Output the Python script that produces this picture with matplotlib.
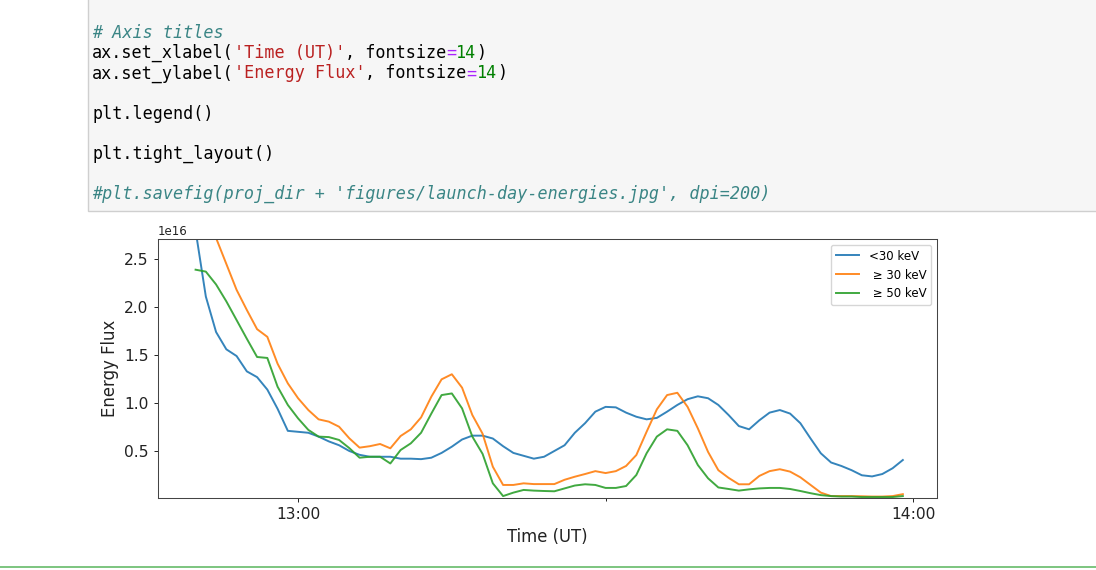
import numpy as np
import pandas as pd
import matplotlib
matplotlib.use("Agg")
import matplotlib.pyplot as plt
import matplotlib.dates as mdates
from matplotlib.ticker import MultipleLocator
from matplotlib.patches import Rectangle
from matplotlib.lines import Line2D

# one-minute cadence, 12:50 -> 13:59 UT
t_start = "2022-03-05 12:50"
n_points = 70

# energy flux, units of 1e16
flux_lt30 = [2.80, 2.11, 1.74, 1.56, 1.49, 1.33, 1.27, 1.14, 0.94, 0.71,
             0.70, 0.69, 0.65, 0.60, 0.56, 0.50, 0.46, 0.44, 0.44, 0.44,
             0.42, 0.42, 0.415, 0.43, 0.48, 0.545, 0.62, 0.66, 0.66, 0.63,
             0.55, 0.48, 0.45, 0.42, 0.44, 0.50, 0.56, 0.69, 0.79, 0.91,
             0.96, 0.955, 0.90, 0.857, 0.83, 0.845, 0.91, 0.98, 1.04, 1.07,
             1.05, 0.98, 0.875, 0.76, 0.726, 0.82, 0.90, 0.927, 0.89, 0.79,
             0.63, 0.476, 0.38, 0.344, 0.30, 0.247, 0.235, 0.26, 0.32, 0.406]
flux_ge30 = [3.40, 3.05, 2.72, 2.45, 2.18, 1.97, 1.77, 1.69, 1.41, 1.205,
             1.05, 0.927, 0.83, 0.806, 0.753, 0.632, 0.535, 0.55, 0.573, 0.528,
             0.656, 0.726, 0.85, 1.066, 1.247, 1.30, 1.16, 0.875, 0.68, 0.336,
             0.146, 0.146, 0.163, 0.155, 0.155, 0.155, 0.20, 0.232, 0.26, 0.29,
             0.27, 0.29, 0.344, 0.458, 0.70, 0.934, 1.083, 1.107, 0.96, 0.736,
             0.49, 0.30, 0.22, 0.153, 0.153, 0.24, 0.29, 0.31, 0.285, 0.226,
             0.146, 0.066, 0.03, 0.03, 0.03, 0.028, 0.025, 0.025, 0.03, 0.05]
flux_ge50 = [2.39, 2.37, 2.236, 2.06, 1.865, 1.67, 1.48, 1.47, 1.17, 0.98,
             0.84, 0.72, 0.65, 0.645, 0.615, 0.53, 0.43, 0.44, 0.44, 0.37,
             0.51, 0.58, 0.69, 0.89, 1.083, 1.10, 0.944, 0.65, 0.47, 0.163,
             0.03, 0.066, 0.094, 0.087, 0.083, 0.08, 0.11, 0.14, 0.153, 0.146,
             0.115, 0.115, 0.135, 0.25, 0.476, 0.65, 0.726, 0.71, 0.56, 0.354,
             0.215, 0.12, 0.104, 0.087, 0.10, 0.11, 0.115, 0.115, 0.104, 0.083,
             0.06, 0.04, 0.03, 0.025, 0.025, 0.02, 0.02, 0.02, 0.02, 0.03]
labels = ["<30 keV", " \u2265 30 keV", " \u2265 50 keV"]

# notebook code cell shown above the output
code_lines = [
    (0, [("# Axis titles", "#3a8585", "italic")]),
    (1, [("ax.set_xlabel(", "black", "normal"), ("'Time (UT)'", "#BA2121", "normal"),
         (", fontsize", "black", "normal"), ("=", "#AA22FF", "normal"),
         ("14", "#008000", "normal"), (")", "black", "normal")]),
    (2, [("ax.set_ylabel(", "black", "normal"), ("'Energy Flux'", "#BA2121", "normal"),
         (", fontsize", "black", "normal"), ("=", "#AA22FF", "normal"),
         ("14", "#008000", "normal"), (")", "black", "normal")]),
    (4, [("plt.legend()", "black", "normal")]),
    (6, [("plt.tight_layout()", "black", "normal")]),
    (8, [("#plt.savefig(proj_dir + 'figures/launch-day-energies.jpg', dpi=200)", "#3a8585", "italic")]),
]

W, H = 1096, 570
fig = plt.figure(figsize=(W / 100, H / 100), dpi=100)

# code cell background
fig.patches.append(Rectangle((88 / W, 1 - 211 / H), 1.0, 211 / H + 0.02,
                             transform=fig.transFigure, facecolor="#f6f6f6",
                             edgecolor="#cfcfcf", linewidth=1.0, zorder=0))
char_w = 10.12
for row, segs in code_lines:
    col = 0
    y = 1 - (38 + 20.15 * row) / H
    for txt, color, style in segs:
        fig.text((92 + col * char_w) / W, y, txt, color=color, style=style,
                 family="DejaVu Sans Mono", fontsize=12.1, va="baseline", ha="left")
        col += len(txt)

# selected cell border at bottom
fig.add_artist(Line2D([0, 1], [1 - 567 / H, 1 - 567 / H], transform=fig.transFigure,
                      color="#66bb6a", linewidth=1.2))

ax = fig.add_axes([158 / W, 1 - 498 / H, (937 - 158) / W, (498 - 239) / H])
times = pd.date_range(t_start, periods=n_points, freq="1min")
for ys, lab in zip([flux_lt30, flux_ge30, flux_ge50], labels):
    ax.plot(times, np.array(ys) * 1e16, label=lab, linewidth=1.4, alpha=0.9)

ax.set_xlim(pd.Timestamp("2022-03-05 12:46:20"), pd.Timestamp("2022-03-05 14:02:20"))
ax.set_ylim(0.01e16, 2.71e16)
ax.yaxis.set_major_locator(MultipleLocator(0.5e16))
ax.xaxis.set_major_locator(mdates.HourLocator())
ax.xaxis.set_minor_locator(mdates.MinuteLocator(byminute=30))
ax.xaxis.set_major_formatter(mdates.DateFormatter("%H:%M"))
ax.tick_params(labelsize=11.2, colors="#222222", width=0.7)
ax.tick_params(which="major", length=3.2)
ax.tick_params(which="minor", length=2.0)
ax.yaxis.get_offset_text().set_fontsize(8.5)
for s in ax.spines.values():
    s.set_color("#444444")
    s.set_linewidth(0.75)

ax.set_xlabel("Time (UT)", fontsize=11.9, color="#222222")
ax.set_ylabel("Energy Flux", fontsize=11.9, color="#222222")
ax.legend(fontsize=8.5, loc="upper right")

fig.savefig("out.png", dpi=100)
